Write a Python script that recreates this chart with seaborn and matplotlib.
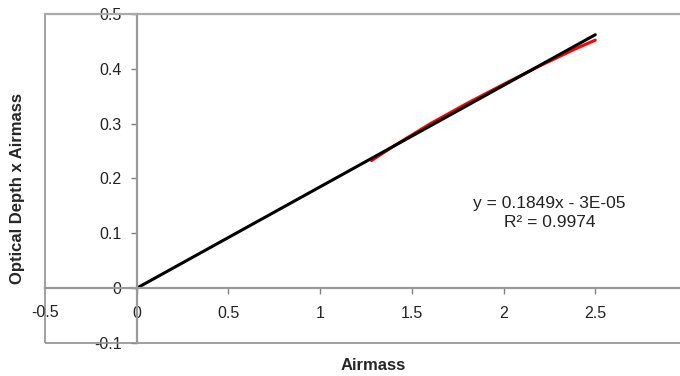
import matplotlib
matplotlib.use("Agg")
import matplotlib.pyplot as plt
import seaborn as sns
import pandas as pd
from matplotlib.patches import Rectangle

# measured data (red) and linear trendline (black)
airmass = [1.28, 1.4, 1.6, 1.8, 2.0, 2.2, 2.4, 2.5]
od_airmass = [0.2327, 0.2589, 0.2998, 0.3368, 0.3718, 0.4058, 0.4378, 0.4523]
trend_x = [0.0, 2.5]
trend_y = [-0.00003, 0.46222]

x_ticks = [0, 0.5, 1, 1.5, 2, 2.5]
y_ticks = [-0.1, 0, 0.1, 0.2, 0.3, 0.4, 0.5]

df_data = pd.DataFrame({"Airmass": airmass, "OD": od_airmass})
df_trend = pd.DataFrame({"Airmass": trend_x, "OD": trend_y})

sns.set_style("white")
plt.rcParams["font.family"] = ["Liberation Sans", "DejaVu Sans"]

fs = 11.5
fig = plt.figure(figsize=(6.8, 3.76), dpi=100)
ax = fig.add_axes([45 / 680, 1 - 343 / 376, 642 / 680, 329 / 376])

sns.lineplot(data=df_data, x="Airmass", y="OD", color="red", linewidth=2.2, ax=ax)
sns.lineplot(data=df_trend, x="Airmass", y="OD", color="black", linewidth=2.2, ax=ax)

ax.set_xlim(-0.5, 3.0)
ax.set_ylim(-0.1, 0.5)
ax.set_xticks(x_ticks)
ax.set_yticks(y_ticks)
ax.set_xticklabels(["0", "0.5", "1", "1.5", "2", "2.5"])
ax.set_yticklabels(["-0.1", "0", "0.1", "0.2", "0.3", "0.4", "0.5"])

# axis lines through the origin, Excel style
ax.spines["left"].set_position(("data", 0))
ax.spines["bottom"].set_position(("data", 0))
for s in ["left", "bottom"]:
    ax.spines[s].set_color("#9a9a9a")
    ax.spines[s].set_linewidth(1.6)
ax.spines["top"].set_color("#aaaaaa")
ax.spines["top"].set_linewidth(1.6)
ax.spines["right"].set_visible(False)

ax.tick_params(axis="both", direction="out", length=4, width=1, color="#808080",
               labelsize=fs, labelcolor="#222222")
ax.tick_params(axis="y", pad=7, left=True)
ax.tick_params(axis="x", pad=9, bottom=True)

# -0.5 label sits below the axis line even though it has no tick there
ax.text(-0.5, -0.031, "-0.5", ha="center", va="top", fontsize=fs, color="#222222")

# outer plot-area frame
ax.add_patch(Rectangle((0, 0), 1, 1, transform=ax.transAxes, fill=False,
                       edgecolor="#909090", linewidth=1.2, clip_on=False))

ax.text(2.25, 0.155, "y = 0.1849x - 3E-05", ha="center", va="center",
        fontsize=12.5, color="#222222")
ax.text(2.25, 0.119, "R² = 0.9974", ha="center", va="center",
        fontsize=12.5, color="#222222")

ax.set_xlabel("Airmass", fontsize=12, fontweight="bold")
ax.set_ylabel("Optical Depth x Airmass", fontsize=12, fontweight="bold")
ax.xaxis.set_label_coords((373 - 45) / 642, -(358 - 343) / 329)
ax.yaxis.set_label_coords(-(45 - 25) / 642, 1 - (188 - 14) / 329)

fig.savefig("out.png", dpi=100)
